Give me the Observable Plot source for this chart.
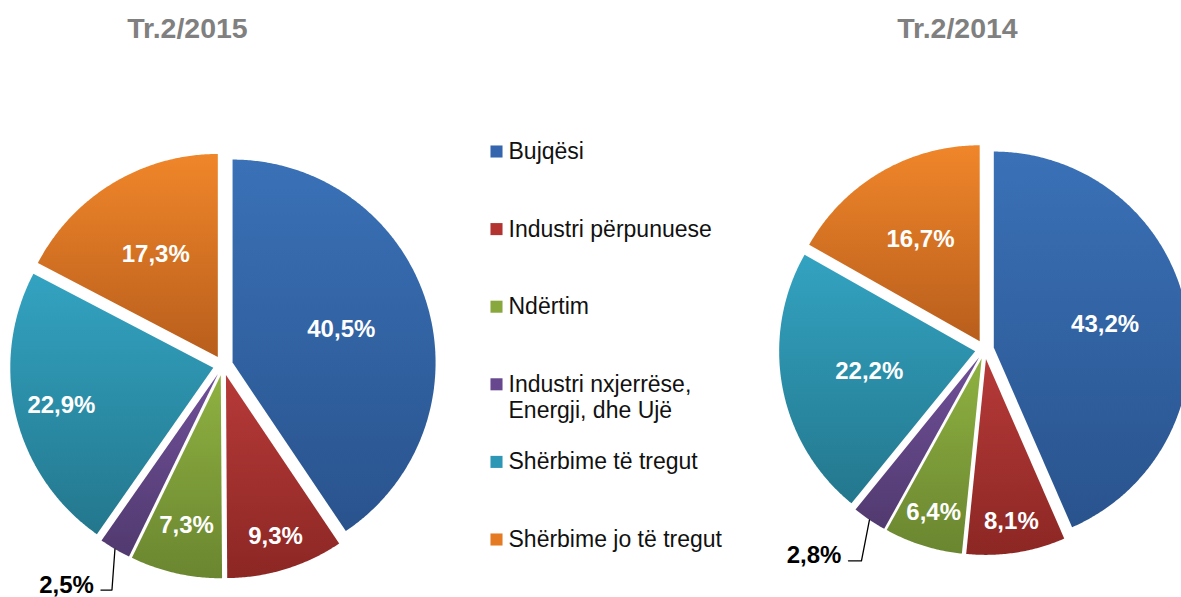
<!DOCTYPE html>
<html><head><meta charset="utf-8">
<script src="https://cdn.jsdelivr.net/npm/d3@7"></script>
<script src="https://cdn.jsdelivr.net/npm/@observablehq/plot@0.6"></script>
<style>body{margin:0;background:#fff} svg{display:block}</style>
</head><body><div id="chart"></div>
<script>
// ---- data ----
const categories = ["Bujqësi", "Industri përpunuese", "Ndërtim", "Industri nxjerrëse, Energji, dhe Ujë", "Shërbime të tregut", "Shërbime jo të tregut"];
const values2015 = [40.5, 9.3, 7.3, 2.5, 22.9, 17.3];
const values2014 = [43.2, 8.1, 6.4, 2.8, 22.2, 16.7];
const titles = ["Tr.2/2015", "Tr.2/2014"];

// ---- styles ----
const topColors    = ["#3a71b7", "#b63a38", "#8fb141", "#6f4f98", "#33a3c1", "#f0862a"];
const bottomColors = ["#29538d", "#8c2724", "#6a8630", "#513a6f", "#23778d", "#b85e1c"];
const legendColors = ["#3566ad", "#b2332f", "#88a83d", "#67488e", "#2e97b5", "#e47a22"];

// ---- layout ----
const W = 1181, H = 597;
const pies = [
  {values: values2015, title: titles[0], cx: 222.5, cy: 365, r: 203, explode: 10, titleX: 187,
   labelR: [0.56, 0.83, 0.76, null, 0.77, 0.59], leader: {drop: 41, shift: -3, run: 11}},
  {values: values2014, title: titles[1], cx: 984, cy: 349, r: 196, explode: 9.5, titleX: 957,
   labelR: [0.58, 0.84, 0.82, null, 0.55, 0.60], leader: {drop: 41, shift: -8, run: 13}}
];
const fmt = v => d3.format(".1f")(v).replace(".", ",") + "%";

const pieGen = d3.pie().sort(null).startAngle(0).endAngle(2 * Math.PI);
const pt = (cx, cy, r, a) => ({x: cx + r * Math.sin(a), y: cy - r * Math.cos(a)});

const sliceMarks = [];
const insideLabels = [];
const outsideLabels = [];
const leaderMarks = [];

pies.forEach((p, pi) => {
  const arcs = pieGen(p.values);
  arcs.forEach((a, i) => {
    const mid = (a.startAngle + a.endAngle) / 2;
    const apex = pt(p.cx, p.cy, p.explode, mid);
    const pts = [apex];
    const n = Math.max(4, Math.ceil((a.endAngle - a.startAngle) / (Math.PI / 360)));
    for (let k = 0; k <= n; k++) {
      const ang = a.startAngle + (a.endAngle - a.startAngle) * k / n;
      pts.push(pt(apex.x, apex.y, p.r, ang));
    }
    sliceMarks.push(Plot.line(pts, {x: "x", y: "y", fill: `url(#grad${i})`, stroke: "none"}));
    if (p.labelR[i] != null) {
      const lp = pt(apex.x, apex.y, p.r * p.labelR[i], mid);
      insideLabels.push({x: lp.x, y: lp.y, text: fmt(a.data)});
    } else {
      const o = pt(apex.x, apex.y, p.r, mid);
      const b = {x: o.x + p.leader.shift, y: o.y + p.leader.drop};
      const e = {x: b.x - p.leader.run, y: b.y};
      leaderMarks.push(Plot.line([o, b, e], {x: "x", y: "y", stroke: "#000", strokeWidth: 1.3}));
      outsideLabels.push({x: e.x - 7, y: e.y - 5, text: fmt(a.data)});
    }
  });
});

const legendRows = categories.map((c, i) => ({
  label: c.replace(", Energji", ",\nEnergji"), color: legendColors[i], i
}));
const legendX = 496, legendY0 = 151, legendStep = 77.6, legendFont = 23;

const defs = () => {
  const d = d3.create("svg:defs");
  categories.forEach((c, i) => {
    const g = d.append("linearGradient").attr("id", `grad${i}`)
      .attr("x1", 0).attr("y1", 0).attr("x2", 0).attr("y2", 1);
    g.append("stop").attr("offset", "0%").attr("stop-color", topColors[i]);
    g.append("stop").attr("offset", "100%").attr("stop-color", bottomColors[i]);
  });
  const f = d.append("filter").attr("id", "shadow")
    .attr("x", "-20%").attr("y", "-20%").attr("width", "140%").attr("height", "140%");
  f.append("feDropShadow").attr("dx", 0).attr("dy", 1).attr("stdDeviation", 2.2)
    .attr("flood-color", "#000").attr("flood-opacity", 0.32);
  return d.node();
};

const chart = Plot.plot({
  width: W, height: H, margin: 0,
  x: {domain: [0, W], range: [0, W], axis: null},
  y: {domain: [0, H], range: [0, H], axis: null},
  style: {background: "#fff", fontFamily: "Arial, 'Liberation Sans', sans-serif"},
  marks: [
    defs,
    ...sliceMarks,
    ...leaderMarks,
    Plot.text(insideLabels, {x: "x", y: "y", text: "text", fill: "#fff", fontSize: 24, fontWeight: "bold"}),
    Plot.text(outsideLabels, {x: "x", y: "y", text: "text", fill: "#000", fontSize: 24, fontWeight: "bold", textAnchor: "end"}),
    Plot.text(pies, {x: "titleX", y: () => 28, text: "title", fill: "#808080", fontSize: 28.5, fontWeight: "bold"}),
    Plot.dot(legendRows, {x: () => legendX, y: d => legendY0 + d.i * legendStep, symbol: "square", r: 6.8, fill: "color", stroke: "none"}),
    Plot.text(legendRows, {x: () => legendX + 12, y: d => legendY0 + d.i * legendStep, text: "label", fill: "#111",
      fontSize: legendFont, textAnchor: "start", lineAnchor: "top", dy: -0.49 * legendFont, lineHeight: 1.15})
  ]
});
d3.select(chart).selectAll('g[aria-label="line"] path')
  .filter(function() { return d3.select(this).attr("fill") && d3.select(this).attr("fill").startsWith("url"); })
  .attr("filter", "url(#shadow)");
document.getElementById("chart").appendChild(chart);
</script>
</body></html>
